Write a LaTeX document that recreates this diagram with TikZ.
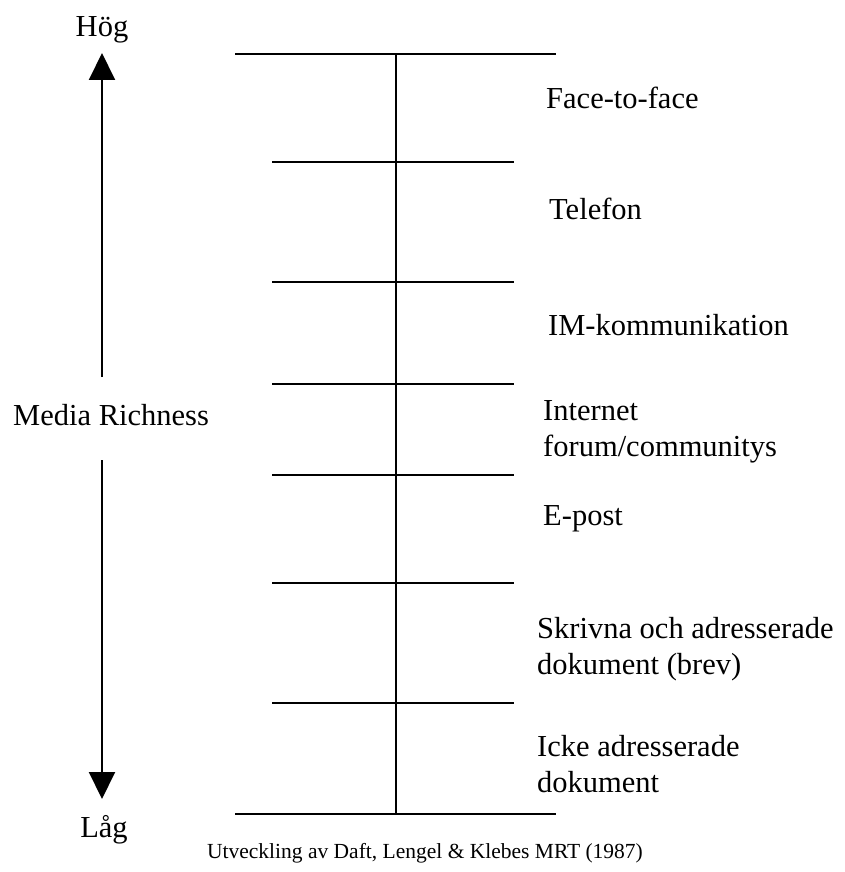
\documentclass[tikz,border=0pt]{standalone}
\usepackage{fontspec}
\setmainfont{Liberation Serif}
\usetikzlibrary{arrows.meta}
\begin{document}
\begin{tikzpicture}[x=1pt,y=-1pt,
  rung/.style={line width=2pt,black},
  axis/.style={line width=2pt,black},
  bigarrow/.style={line width=2pt,-{Triangle[width=26pt,length=27pt]}},
  lbl/.style={anchor=base west,inner sep=0pt,align=left,font=\fontsize{30.5}{36}\selectfont},
  endlbl/.style={anchor=base,inner sep=0pt,font=\fontsize{30.5}{36}\selectfont},
  captext/.style={anchor=base,inner sep=0pt,font=\fontsize{21.5}{26}\selectfont}]
\useasboundingbox[fill=white] (0,0) rectangle (844,872);
% rungs
\coordinate (t0l) at (235,54);  \coordinate (t0r) at (556,54);
\coordinate (t1l) at (272,162); \coordinate (t1r) at (514,162);
\coordinate (t2l) at (272,282); \coordinate (t2r) at (514,282);
\coordinate (t3l) at (272,384); \coordinate (t3r) at (514,384);
\coordinate (t4l) at (272,475); \coordinate (t4r) at (514,475);
\coordinate (t5l) at (272,583); \coordinate (t5r) at (514,583);
\coordinate (t6l) at (272,703); \coordinate (t6r) at (514,703);
\coordinate (t7l) at (235,814); \coordinate (t7r) at (556,814);
\foreach \i in {0,...,7} {\draw[rung] (t\i l) -- (t\i r);}
\coordinate (vtop) at (396,54); \coordinate (vbot) at (396,814);
\draw[axis] (vtop) -- (vbot);
% labels (multi-line nodes: base = last line)
\node[lbl] (ftf) at (546,109) {Face-to-face};
\node[lbl] (tel) at (549,219) {Telefon};
\node[lbl] (im) at (548,335) {IM-kommunikation};
\node[lbl] (inet) at (543,456) {Internet\\forum/communitys};
\node[lbl] (epost) at (543,525) {E-post};
\node[lbl] (skr) at (537,674) {Skrivna och adresserade\\dokument (brev)};
\node[lbl] (icke) at (537,792) {Icke adresserade\\dokument};
% axis
\node[endlbl] (hog) at (102,37) {Hög};
\node[endlbl] (lag) at (104,837) {Låg};
\node[lbl] (mr) at (13,425) {Media Richness};
\coordinate (upstart) at (102,377);
\coordinate (uptip) at (102,53);
\coordinate (downstart) at (102,460);
\coordinate (downtip) at (102,799);
\draw[bigarrow] (upstart) -- (uptip);
\draw[bigarrow] (downstart) -- (downtip);
\node[captext] (caption) at (425,858) {Utveckling av Daft, Lengel \& Klebes MRT (1987)};
\end{tikzpicture}
\end{document}
